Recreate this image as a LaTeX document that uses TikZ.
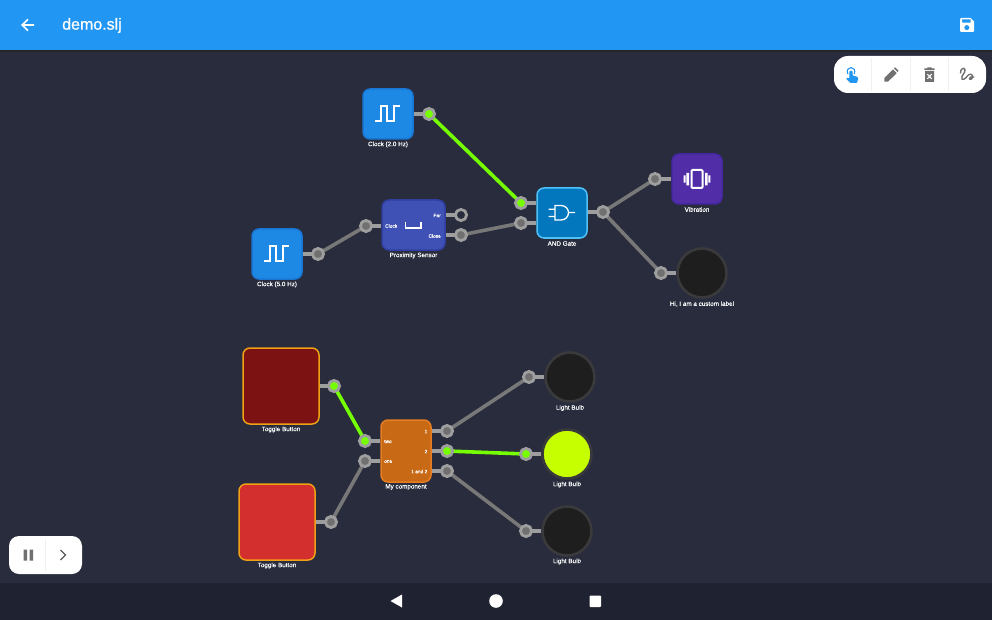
\documentclass[tikz,border=0pt]{standalone}
\usepackage{fontspec}
\setmainfont{Liberation Sans}
\newfontfamily\capfont{Liberation Sans}[FakeBold=0.18]
\newfontfamily\headfont{Liberation Sans}[FakeBold=0.7]
\usetikzlibrary{calc}
\pgfdeclarelayer{wires}
\pgfsetlayers{wires,main}
\definecolor{bgc}{HTML}{282C3C}
\definecolor{barc}{HTML}{2196F3}
\definecolor{navc}{HTML}{1F2231}
\definecolor{ringc}{HTML}{9E9E9E}
\definecolor{corec}{HTML}{707070}
\definecolor{wirec}{HTML}{787878}
\definecolor{livec}{HTML}{76FF03}
\definecolor{iconc}{HTML}{707070}
\tikzset{
  x=1pt,y=-1pt,
  block/.style={draw,line width=1.5pt,rounded corners=7pt,inner sep=0pt,minimum width=#1,minimum height=#1},
  block/.default=50pt,
  clockblock/.style={block,fill={rgb,255:red,30;green,136;blue,229},draw={rgb,255:red,25;green,118;blue,210}},
  toggleblock/.style={block=76pt,draw={rgb,255:red,240;green,160;blue,20}},
  bulb/.style={circle,minimum size=49pt,inner sep=0pt,line width=2.6pt,draw={rgb,255:red,58;green,58;blue,60}},
  port/.style={circle,minimum size=11.2pt,inner sep=0pt,line width=2.8pt,draw=ringc,fill=corec},
  liveport/.style={port,fill=livec},
  openport/.style={port,fill=bgc},
  stub/.style={draw=ringc,line width=4pt},
  wire/.style={draw=wirec,line width=3.6pt},
  livewire/.style={draw=livec,line width=3.6pt},
  captext/.style={text=white,font=\capfont\fontsize{6.3}{7}\selectfont,inner sep=0pt},
  tinytext/.style={text=white,font=\capfont\fontsize{4.8}{6}\selectfont,inner sep=0pt},
  icon/.style={draw=white,line width=1.8pt},
  tool/.style={fill=iconc,draw=none},
  sep/.style={draw=black!6,line width=.6pt},
  clockicon/.pic={\draw[icon,line join=miter] (-13,7)--(-7,7)--(-7,-8)--(-1,-8)--(-1,7)--(6,7)--(6,-8)--(12,-8);}
}
\begin{document}
\begin{tikzpicture}
\useasboundingbox (0,0) rectangle (992,620);
\begin{pgfonlayer}{wires}
\fill[bgc] (0,0) rectangle (992,620);
\end{pgfonlayer}
% app bar
\fill[barc] (0,0) rectangle (992,50);
\fill[black!85] (0,50) rectangle (992,52);
\fill[navc] (0,583) rectangle (992,620);
\node[text=white,anchor=west,inner sep=0pt,font=\headfont\fontsize{16}{18}\selectfont] (title) at (62,25.5) {demo.slj};
\draw[white,line width=1.7pt] (34,25)--(22.5,25) (28,19.3)--(22.2,25)--(28,30.7);
\fill[white,even odd rule] (961,18) -- (970.5,18) -- (974,21.5) -- (974,31) -- (973,32) -- (961,32) -- (960,31) -- (960,19) -- cycle
  (962,19.4) rectangle (970.7,22.7);
\fill[barc] (966.8,27.6) circle (2.5);
% blocks
\node[clockblock] (clkA) at (388,114) {};
\node[clockblock] (clkB) at (277,254) {};
\node[block,minimum width=63pt,fill={rgb,255:red,63;green,81;blue,181},draw={rgb,255:red,48;green,63;blue,159}] (prox) at (413.5,225) {};
\node[block,fill={rgb,255:red,2;green,119;blue,189},draw={rgb,255:red,79;green,195;blue,247}] (andg) at (562,213) {};
\node[block,fill={rgb,255:red,81;green,45;blue,168},draw={rgb,255:red,69;green,39;blue,160}] (vib) at (697,179) {};
\node[bulb,fill={rgb,255:red,30;green,30;blue,30}] (lampA) at (702,273) {};
\node[toggleblock,fill={rgb,255:red,125;green,18;blue,18}] (togA) at (281,386) {};
\node[toggleblock,fill={rgb,255:red,211;green,47;blue,47}] (togB) at (277,522) {};
\node[block,minimum height=62pt,fill={rgb,255:red,200;green,105;blue,22},draw={rgb,255:red,230;green,125;blue,34}] (comp) at (406,451) {};
\node[bulb,fill={rgb,255:red,30;green,30;blue,30}] (lampB) at (570,377) {};
\node[bulb,fill={rgb,255:red,198;green,255;blue,0}] (lampC) at (567,454) {};
\node[bulb,fill={rgb,255:red,30;green,30;blue,30}] (lampD) at (567,531) {};
% ports
\node[liveport] (pA) at (429,114) {};
\node[port] (pB) at (318,254) {};
\node[port] (pC) at (366,226) {};
\node[openport] (pFar) at (461,215) {};
\node[port] (pClose) at (461,235) {};
\node[liveport] (pD) at (521,203) {};
\node[port] (pE) at (521,223) {};
\node[port] (pF) at (603,212) {};
\node[port] (pG) at (655,179) {};
\node[port] (pH) at (661,273) {};
\node[liveport] (pI) at (334,386) {};
\node[port] (pJ) at (331,522) {};
\node[liveport] (pK) at (365,441) {};
\node[port] (pL) at (365,461) {};
\node[port] (pM) at (447,431) {};
\node[liveport] (pN) at (447,451) {};
\node[port] (pO) at (447,471) {};
\node[port] (pP) at (529,377) {};
\node[liveport] (pQ) at (526,454) {};
\node[port] (pR) at (526,531) {};
\begin{pgfonlayer}{wires}
% stubs
\draw[stub] (pA.center) -- (clkA.east |- pA);
\draw[stub] (pB.center) -- (clkB.east |- pB);
\draw[stub] (pC.center) -- (prox.west |- pC);
\draw[stub] (pFar.center) -- (prox.east |- pFar);
\draw[stub] (pClose.center) -- (prox.east |- pClose);
\draw[stub] (pD.center) -- (andg.west |- pD);
\draw[stub] (pE.center) -- (andg.west |- pE);
\draw[stub] (pF.center) -- (andg.east |- pF);
\draw[stub] (pG.center) -- (vib.west |- pG);
\draw[stub] (pH.center) -- (lampA.west |- pH);
\draw[stub] (pI.center) -- (togA.east |- pI);
\draw[stub] (pJ.center) -- (togB.east |- pJ);
\draw[stub] (pK.center) -- (comp.west |- pK);
\draw[stub] (pL.center) -- (comp.west |- pL);
\draw[stub] (pM.center) -- (comp.east |- pM);
\draw[stub] (pN.center) -- (comp.east |- pN);
\draw[stub] (pO.center) -- (comp.east |- pO);
\draw[stub] (pP.center) -- (lampB.west |- pP);
\draw[stub] (pQ.center) -- (lampC.west |- pQ);
\draw[stub] (pR.center) -- (lampD.west |- pR);
% wires
\draw[livewire] (pA.center) -- (pD.center);
\draw[wire] (pB.center) -- (pC.center);
\draw[wire] (pClose.center) -- (pE.center);
\draw[wire] (pF.center) -- (pG.center);
\draw[wire] (pF.center) -- (pH.center);
\draw[livewire] (pI.center) -- (pK.center);
\draw[wire] (pJ.center) -- (pL.center);
\draw[wire] (pM.center) -- (pP.center);
\draw[livewire] (pN.center) -- (pQ.center);
\draw[wire] (pO.center) -- (pR.center);
\end{pgfonlayer}
% captions
\node[captext] (cA) at (388,144.5) {Clock (2.0 Hz)};
\node[captext] (cB) at (277,284.5) {Clock (5.0 Hz)};
\node[captext] (cC) at (413.5,255.5) {Proximity Sensor};
\node[captext] (cD) at (562,243.5) {AND Gate};
\node[captext] (cE) at (697,209.5) {Vibration};
\node[captext] (cF) at (702,304) {Hi, I am a custom label};
\node[captext] (cG) at (281,429.5) {Toggle Button};
\node[captext] (cH) at (277,565.5) {Toggle Button};
\node[captext] (cI) at (406,487) {My component};
\node[captext] (cJ) at (570,408) {Light Bulb};
\node[captext] (cK) at (567,484.5) {Light Bulb};
\node[captext] (cL) at (567,561.5) {Light Bulb};
% inner labels
\node[tinytext,anchor=west] (tClock) at (385,226) {Clock};
\node[tinytext,anchor=east] (tFar) at (441,215.5) {Far};
\node[tinytext,anchor=east] (tClose) at (441,236) {Close};
\node[tinytext,anchor=west] (tTwo) at (384,441.5) {two};
\node[tinytext,anchor=west] (tOne) at (384,461.5) {one};
\node[tinytext,anchor=east] (tA) at (427.5,431.5) {1};
\node[tinytext,anchor=east] (tB) at (427.5,451.5) {2};
\node[tinytext,anchor=east] (tC) at (427.5,471.5) {1 and 2};
% block icons
\pic at (clkA) {clockicon};
\pic at (clkB) {clockicon};
\draw[white,line width=1.7pt,line join=miter] (405.6,222)--(405.6,228)--(420.8,228)--(420.8,222);
\draw[white,line width=1.3pt] (555,205.5)--(561,205.5) .. controls (565.5,205.5) and (568.5,209) .. (568.5,212.7) .. controls (568.5,216.5) and (565.5,220) .. (561,220) --(555,220)--cycle
  (548.5,209.3)--(555,209.3) (548.5,216.5)--(555,216.5) (568.5,212.5)--(575,212.5);
\draw[white,line width=2pt,rounded corners=1pt,fill={rgb,255:red,81;green,45;blue,168}] (691.5,170) rectangle (702.5,188);
\fill[white] (683.6,175.5) rectangle (685.6,182.7) (686.4,173) rectangle (689,185.3)
  (705,173) rectangle (707.6,185.3) (708.4,175.5) rectangle (710.4,182.7);
% toolbar
\fill[white,rounded corners=14pt] (834,56) rectangle (986,93);
\draw[sep] (871,58)--(871,91);
\draw[sep] (910,58)--(910,91);
\draw[sep] (948,58)--(948,91);
\draw[barc,line width=1.1pt] (847.9,74.2) .. controls (846,70) and (848.5,67.6) .. (851,67.6) .. controls (853.5,67.6) and (856,70) .. (854.1,74.2);
\fill[barc,rounded corners=.8pt] (849.4,71)--(852.6,71)--(852.6,75.6)--(857,76.6)--(858.3,78)--(857,83)--(850.3,83)--(846,78.6)--(846.8,77.5)--(849.4,78.6)--cycle;
\fill[tool] (884.3,81.7)--(884.3,78)--(893,69.4)--(896.7,73.1)--(888,81.7)--cycle
  (894,68.3)--(895.2,67.3)--(898.5,70.6)--(897.6,72)--cycle;
\fill[tool] (925,71) rectangle (934,82) (924.3,68.3) rectangle (934.7,70) (927.3,67.3) rectangle (931.7,68.3);
\draw[white,line width=1.1pt] (927.3,74.2)--(931.7,78.8) (931.7,74.2)--(927.3,78.8);
\draw[iconc,line width=1.4pt,line cap=round] (960.5,73) .. controls (960,69) and (964.5,66.5) .. (965,70) .. controls (965.5,73) and (960.5,76) .. (962,79) .. controls (964,81) and (967,76) .. (969,74.5) .. controls (972,73) and (974,77) .. (971.5,79) .. controls (969,81) and (968,76) .. (974,77);
% sim controls
\fill[white,rounded corners=10pt] (9,536) rectangle (82,574);
\draw[sep] (45.5,539)--(45.5,571);
\fill[iconc] (23.5,549.5) rectangle (27,560.5) (29.5,549.5) rectangle (33,560.5);
\draw[iconc!80!black,line width=1.2pt] (60.5,550)--(65.5,555)--(60.5,560);
% nav bar
\fill[white] (402,594.5)--(402,607.5)--(390.5,601)--cycle;
\fill[white] (496,601) circle (6.8);
\fill[white,rounded corners=.8pt] (589.5,595.5) rectangle (601,607);
\end{tikzpicture}
\end{document}
